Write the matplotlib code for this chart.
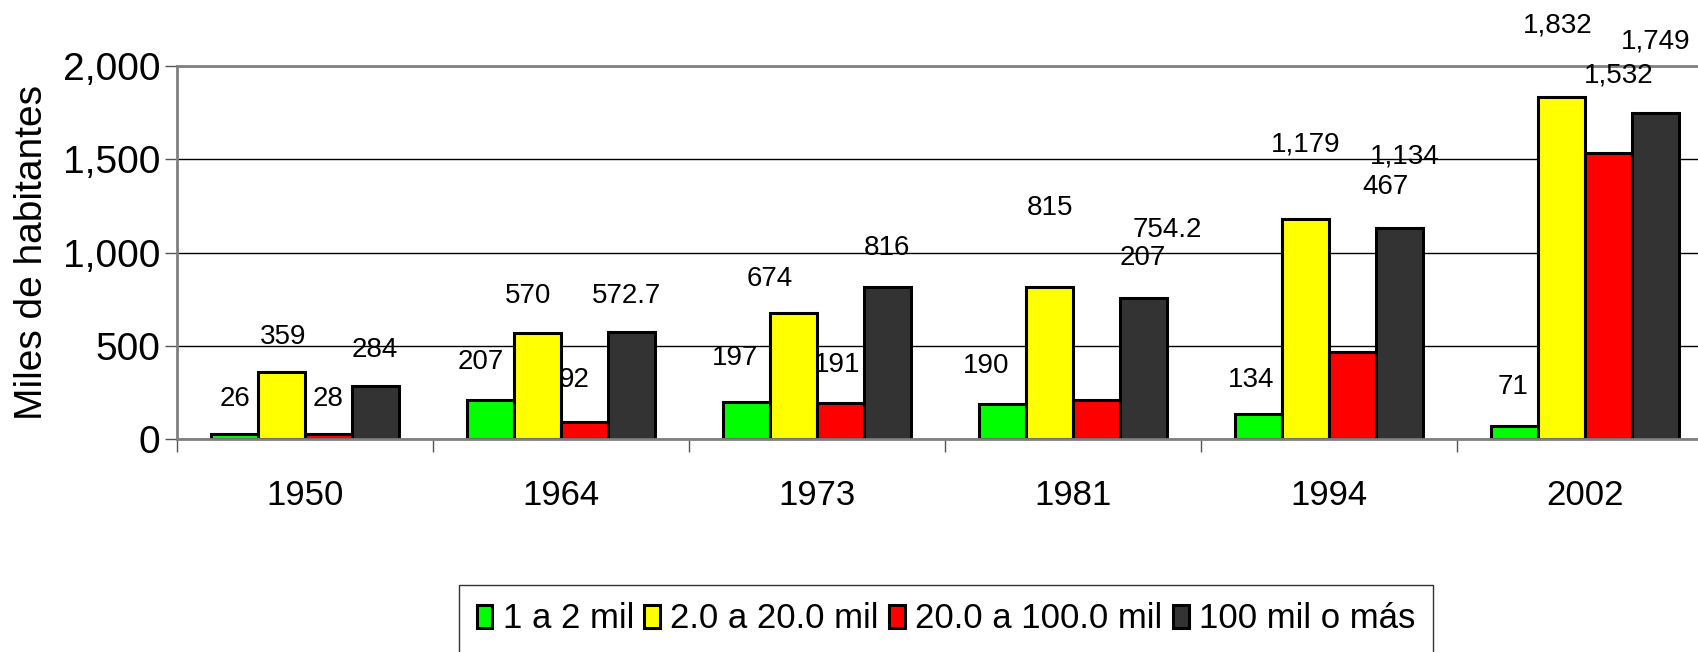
import numpy as np
import matplotlib.pyplot as plt
from matplotlib.ticker import StrMethodFormatter

plt.rcParams['font.family'] = ['Liberation Sans', 'DejaVu Sans']

years = ["1950", "1964", "1973", "1981", "1994", "2002"]
series = ["1 a 2 mil", "2.0 a 20.0 mil", "20.0 a 100.0 mil", "100 mil o más"]
v_1a2 = [26, 207, 197, 190, 134, 71]
v_2a20 = [359, 570, 674, 815, 1179, 1832]
v_20a100 = [28, 92, 191, 207, 467, 1532]
v_100mas = [284, 572.7, 816, 754.2, 1134, 1749]
colors = ["#00ff00", "#ffff00", "#ff0000", "#333333"]

# label offsets in pixels from bar top (dx, dy), as placed in the original
lbl_dx = [[0, -10, -12, -17, -8, -2],
          [2, -10, -24, 0, 0, -4],
          [0, -10, -3, 46, 33, 10],
          [0, -5, 0, 24, 5, 0]]
lbl_dy = [[35, 38, 44, 38, 34, 39],
          [35, 37, 34, 79, 75, 72],
          [35, 42, 38, 142, 165, 78],
          [36, 36, 39, 68, 71, 71]]

values = [v_1a2, v_2a20, v_20a100, v_100mas]

fig = plt.figure(figsize=(16.99, 6.52), dpi=100)
ax = fig.add_axes([177/1699, 1-439/652, 1536/1699, 373/652])

x = np.arange(len(years))
w = 0.183
for k, (vals, c) in enumerate(zip(values, colors)):
    xs = x + (k - 1.5) * w
    ax.bar(xs, vals, width=w, color=c, edgecolor="black", linewidth=2.2,
           label=series[k], zorder=2)
    for i, (xi, v) in enumerate(zip(xs, vals)):
        txt = f"{v:,.0f}" if float(v).is_integer() else f"{v:,.1f}"
        ax.annotate(txt, xy=(xi, v), xytext=(lbl_dx[k][i], lbl_dy[k][i]),
                    textcoords="offset pixels", ha="center", va="center",
                    fontsize=20, annotation_clip=False)

ax.set_xlim(-0.5, 5.5)
ax.set_ylim(0, 2000)
ax.set_yticks([0, 500, 1000, 1500, 2000])
ax.yaxis.set_major_formatter(StrMethodFormatter("{x:,.0f}"))
ax.set_xticks(np.arange(-0.5, 6, 1))
ax.set_xticklabels([])
ax.set_xticks(x, minor=True)
ax.set_xticklabels(years, minor=True)
ax.tick_params(axis="x", which="minor", length=0, labelsize=25, pad=29)
ax.tick_params(axis="x", which="major", length=9, width=1, color="#555555")
ax.tick_params(axis="y", length=9, width=1, color="#555555", labelsize=28, pad=3)

ax.set_axisbelow(True)
ax.yaxis.grid(True, color="black", linewidth=1.0)
for s in ["left", "bottom", "top"]:
    ax.spines[s].set_color("#808080")
    ax.spines[s].set_linewidth(2)
ax.spines["right"].set_visible(False)
ax.set_ylabel("Miles de habitantes", fontsize=28, labelpad=9)

leg = fig.legend(loc="center", bbox_to_anchor=(946/1699, 1-619/652), ncol=4,
                 fontsize=25, frameon=True, fancybox=False, edgecolor="black",
                 handlelength=0.45, handleheight=0.65, handletextpad=0.3,
                 columnspacing=0.3, borderpad=0.5, borderaxespad=0)
leg.get_frame().set_linewidth(1)

fig.savefig("out.png", dpi=100)
